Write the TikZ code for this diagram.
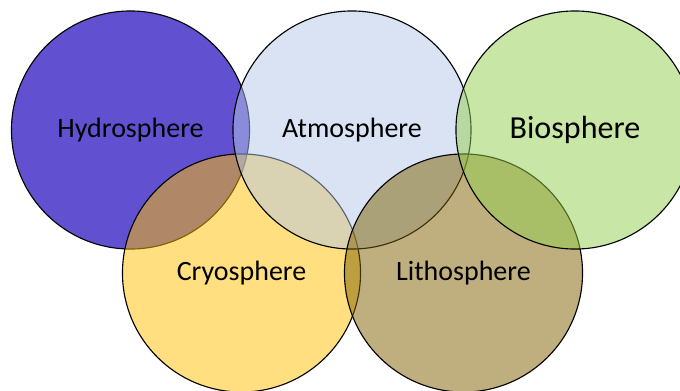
\documentclass[tikz,border=0pt]{standalone}
\usepackage{fontspec}
\setmainfont{Carlito}
\definecolor{hydroblue}{RGB}{97,81,208}
\definecolor{atmoblue}{RGB}{180,199,231}
\definecolor{biogreen}{RGB}{146,208,80}
\definecolor{cryogold}{RGB}{255,192,0}
\definecolor{lithobrown}{RGB}{127,96,0}
\begin{document}
\begin{tikzpicture}[x=0.025cm, y=-0.025cm,
    sphere/.style={draw=black, circle, line width=0.8pt, minimum size=5.95cm, inner sep=0pt, fill opacity=0.5, text opacity=1, font=\fontsize{19.9}{24}\selectfont}]
    \clip (0,0) rectangle (680,390);
    \node[sphere, fill=hydroblue, fill opacity=1] (hydro) at (130.5,130) {Hydrosphere};
    \node[sphere, fill=cryogold] (cryo) at (241.5,273) {Cryosphere};
    \node[sphere, fill=atmoblue] (atmo) at (352,130) {Atmosphere};
    \node[sphere, fill=lithobrown] (litho) at (463.5,273) {Lithosphere};
    \node[sphere, fill=biogreen, font=\fontsize{22.8}{27}\selectfont] (bio) at (575,130) {Biosphere};
\end{tikzpicture}
\end{document}
